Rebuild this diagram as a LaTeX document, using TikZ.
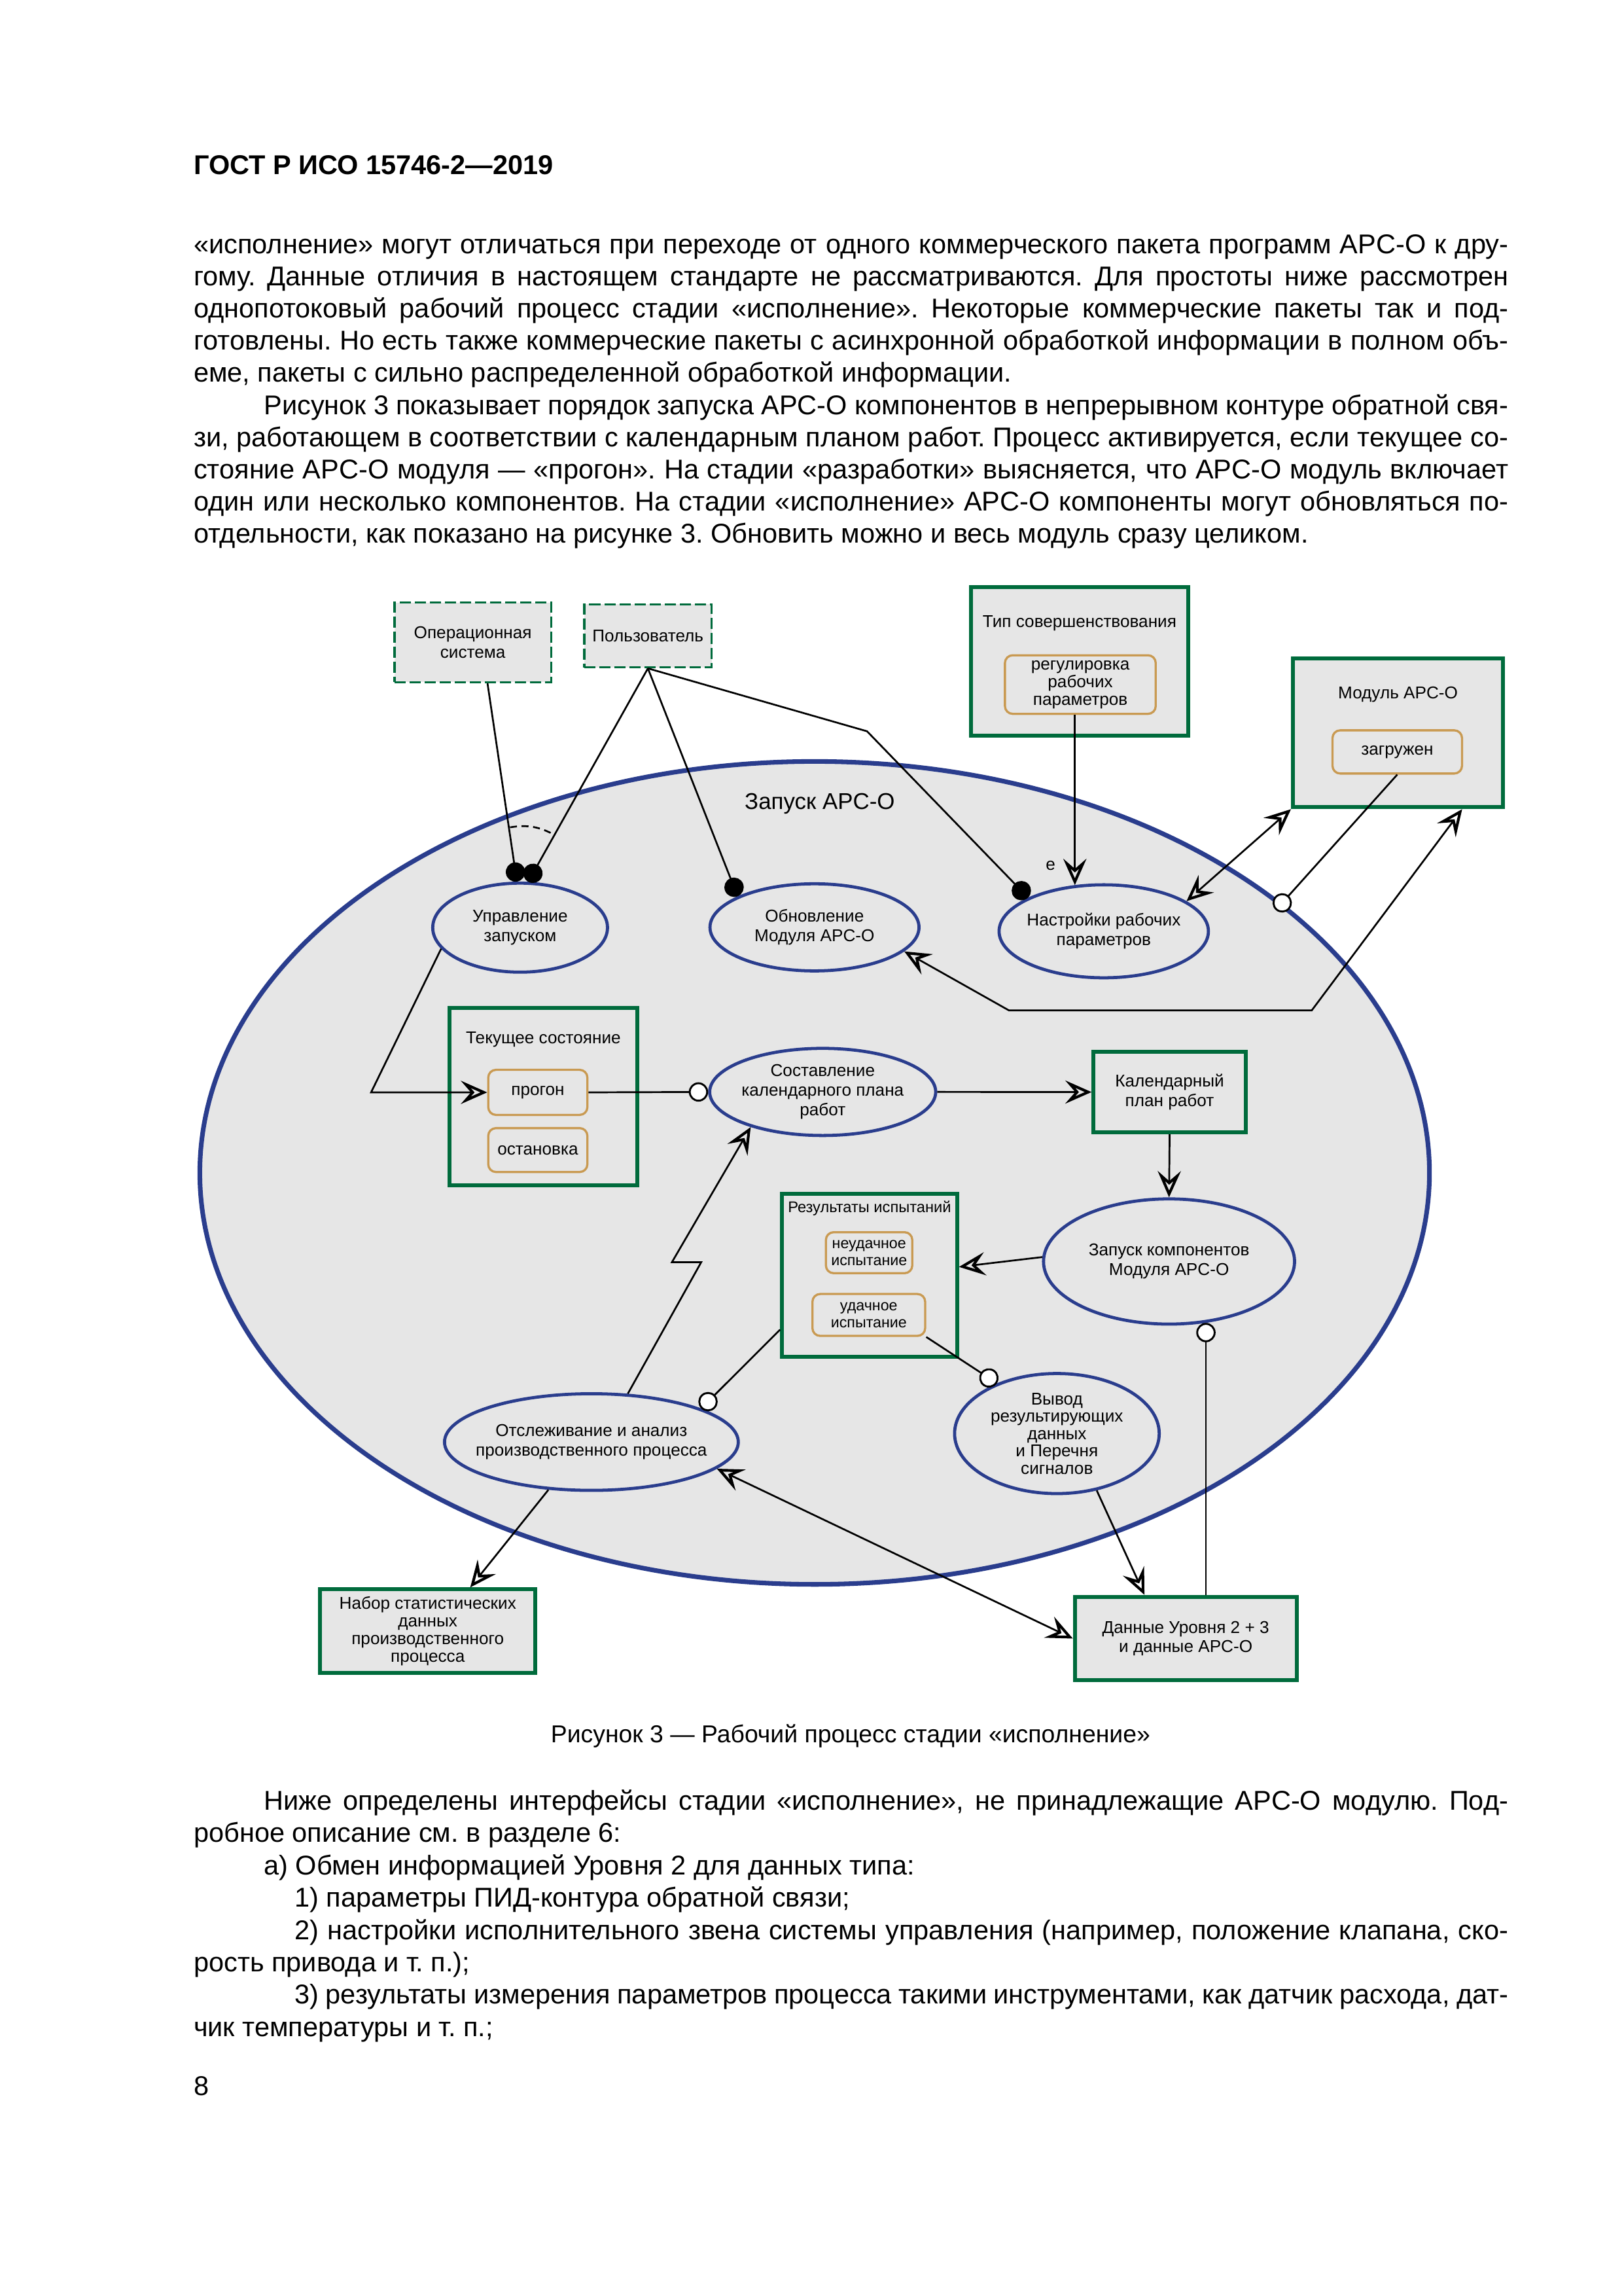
\documentclass[tikz,border=0pt]{standalone}
\usepackage{fontspec}
\setmainfont{Liberation Sans}
\usetikzlibrary{arrows.meta,shapes.geometric,calc}
\definecolor{bgfill}{HTML}{E6E6E6}
\definecolor{navy}{HTML}{2A3D8D}
\definecolor{dgreen}{HTML}{006B3C}
\definecolor{ochre}{HTML}{C99A52}
\newdimen\uu \uu=0.18936mm
\newcommand{\dfont}{\fontsize{6.3}{7.2}\selectfont}
\newcommand{\dfontt}{\fontsize{6.3}{6.5}\selectfont}
\newcommand{\smfont}{\fontsize{5.6}{6.2}\selectfont}
\newcommand{\bodyfont}{\fontsize{10}{11.9}\selectfont}
\tikzset{
  opena/.tip={Stealth[open, length=3.4mm, width=3mm, inset=1.3mm, line width=1pt]},
  fdot/.tip={Circle[length=2.5mm]},
  ocirc/.tip={Circle[length=2.5mm, fill=white, line width=0.7pt]},
}
\frenchspacing
\begin{document}
\frenchspacing
\begin{tikzpicture}[x=0.18936mm, y=-0.18936mm,
  proc/.style={ellipse, draw=navy, line width=1.15pt, fill=bgfill, inner sep=0pt},
  lbl/.style={font=\dfont, align=center, inner sep=0pt},
  box/.style={rectangle, draw=dgreen, line width=1.45pt, fill=bgfill, inner sep=0pt, align=center, font=\dfont},
  extbox/.style={rectangle, draw=dgreen, line width=0.8pt, dash pattern=on 1.45mm off 0.5mm, fill=bgfill, inner sep=0pt, align=center, font=\dfont},
  statebox/.style={rectangle, rounded corners=1mm, draw=ochre, line width=0.8pt, fill=bgfill, inner sep=0pt, align=center, font=\dfontt},
  sz/.style 2 args={minimum width={#1*\uu}, minimum height={#2*\uu}},
  conn/.style={draw=black, line width=0.65pt},
  arr/.style={conn, -opena},
  darr/.style={conn, opena-opena},
  bl/.style={anchor=base west, inner sep=0pt, font=\bodyfont\frenchspacing},
]
\useasboundingbox (0,0) rectangle (1109,1568);
\fill[white] (0,0) rectangle (1109,1568);

% ---------- page text ----------
\node[anchor=base west, inner sep=0pt, font=\bfseries\fontsize{10}{12}\selectfont] (hdr) at (132,119) {ГОСТ Р ИСО 15746-2—2019};

\node[bl] (l1) at (132,173.2) {\makebox[170.05mm][s]{«исполнение» могут отличаться при переходе от одного коммерческого пакета программ APC-O к дру-}};
\node[bl] (l2) at (132,195.1) {\makebox[170.05mm][s]{гому. Данные отличия в настоящем стандарте не рассматриваются. Для простоты ниже рассмотрен}};
\node[bl] (l3) at (132,217.0) {\makebox[170.05mm][s]{однопотоковый рабочий процесс стадии «исполнение». Некоторые коммерческие пакеты так и под-}};
\node[bl] (l4) at (132,238.9) {\makebox[170.05mm][s]{готовлены. Но есть также коммерческие пакеты с асинхронной обработкой информации в полном объ-}};
\node[bl] (l5) at (132,260.8) {еме, пакеты с сильно распределенной обработкой информации.};
\node[bl] (l6) at (180,283.2) {\makebox[160.96mm][s]{Рисунок 3 показывает порядок запуска APC-O компонентов в непрерывном контуре обратной свя-}};
\node[bl] (l7) at (132,305.1) {\makebox[170.05mm][s]{зи, работающем в соответствии с календарным планом работ. Процесс активируется, если текущее со-}};
\node[bl] (l8) at (132,327.0) {\makebox[170.05mm][s]{стояние APC-O модуля — «прогон». На стадии «разработки» выясняется, что APC-O модуль включает}};
\node[bl] (l9) at (132,348.9) {\makebox[170.05mm][s]{один или несколько компонентов. На стадии «исполнение» APC-O компоненты могут обновляться по-}};
\node[bl] (l10) at (132,370.8) {отдельности, как показано на рисунке 3. Обновить можно и весь модуль сразу целиком.};

\node[anchor=base, inner sep=0pt, font=\fontsize{9}{11}\selectfont] (cap) at (581,1190) {Рисунок 3 — Рабочий процесс стадии «исполнение»};

\node[bl] (m1) at (180,1236.0) {\makebox[160.96mm][s]{Ниже определены интерфейсы стадии «исполнение», не принадлежащие APC-O модулю. Под-}};
\node[bl] (m2) at (132,1258.1) {робное описание см. в разделе 6:};
\node[bl] (m3) at (180,1280.2) {а) Обмен информацией Уровня 2 для данных типа:};
\node[bl] (m4) at (201,1302.3) {1) параметры ПИД-контура обратной связи;};
\node[bl] (m5) at (201,1324.4) {\makebox[156.98mm][s]{2) настройки исполнительного звена системы управления (например, положение клапана, ско-}};
\node[bl] (m6) at (132,1346.5) {рость привода и т. п.);};
\node[bl] (m7) at (201,1368.6) {\makebox[156.98mm][s]{3) результаты измерения параметров процесса такими инструментами, как датчик расхода, дат-}};
\node[bl] (m8) at (132,1390.7) {чик температуры и т. п.;};
\node[bl] (pg) at (132,1431) {8};

% ---------- diagram ----------
\node[proc, line width=1.7pt, sz={840}{562}] (big) at (556.5,801) {};
\node[inner sep=0pt, font=\fontsize{8.4}{10}\selectfont] (bigT) at (560,549) {Запуск APC-O};

\node[extbox, sz={107}{54.5}] (os) at (323,438.7) {Операционная\\система};
\node[extbox, sz={87}{43}] (user) at (442.6,434.2) {Пользователь};

\node[box, sz={148.5}{101.5}] (tip) at (737.5,451.5) {};
\node[lbl] (tipT) at (737.5,425.5) {Тип совершенствования};
\node[statebox, sz={103}{40}] (reg) at (738,467.5) {регулировка\\рабочих\\параметров};

\node[box, sz={143.5}{101.5}] (mod) at (955,500.5) {};
\node[lbl] (modT) at (955,474.4) {Модуль APC-O};
\node[statebox, sz={88.5}{29.5}] (zag) at (954.5,513.5) {загружен};

\node[proc, sz={119.4}{60.8}, label={[lbl]center:{Управление\\запуском}}] (upr) at (355.3,633.5) {};
\node[proc, sz={142.8}{59.5}, label={[lbl]center:{Обновление\\Модуля APC-O}}] (obn) at (556.4,633.3) {};
\node[proc, sz={143}{63.5}, label={[lbl]center:{Настройки рабочих\\параметров}}] (nast) at (754,636) {};

\node[box, sz={128}{121}] (tek) at (371.2,749) {};
\node[lbl] (tekT) at (371.2,709.8) {Текущее состояние};
\node[statebox, sz={67.7}{30.8}] (prog) at (367.4,746) {прогон};
\node[statebox, sz={67.7}{30}] (ost) at (367.4,785.4) {остановка};

\node[proc, sz={154.4}{59.5}, label={[lbl]center:{Составление\\календарного плана\\работ}}] (sost) at (562,745.7) {};
\node[box, sz={104}{55}] (kal) at (799,745.8) {Календарный\\план работ};

\node[box, sz={119.5}{111.5}] (res) at (594,871) {};
\node[lbl, font=\fontsize{5.7}{6.8}\selectfont] (resT) at (594,825.3) {Результаты испытаний};
\node[statebox, sz={59}{28}, font=\smfont] (neud) at (593.7,855.5) {неудачное\\испытание};
\node[statebox, sz={77}{28.6}, font=\smfont] (ud) at (593.5,898) {удачное\\испытание};

\node[proc, sz={171.5}{85.5}, label={[lbl]center:{Запуск компонентов\\Модуля APC-O}}] (zap) at (798.6,861.5) {};
\node[proc, sz={139.8}{82}, label={[lbl, font=\fontsize{6.3}{6.4}\selectfont]center:{Вывод\\результирующих\\данных\\и Перечня\\сигналов}}] (vyv) at (722,979) {};
\node[proc, sz={200.7}{66}, label={[lbl]center:{Отслеживание и анализ\\производственного процесса}}] (otsl) at (404,984.8) {};

\node[box, sz={147}{57}, font=\fontsize{6.3}{6.5}\selectfont] (nab) at (292.2,1113.9) {Набор статистических\\данных\\производственного\\процесса};
\node[box, sz={151.5}{57}] (dan) at (810,1119) {Данные Уровня 2 + 3\\и данные APC-O};

\node[inner sep=0pt, font=\dfont] (elbl) at (717.7,591) {e};

% bend points
\coordinate (b1) at (592.3,499.4);
\coordinate (b2) at (253.5,746);
\coordinate (b3) at (689.2,690);
\coordinate (b4) at (896.1,690);
\coordinate (z1) at (459,862);
\coordinate (z2) at (479,862);

% ---------- connectors ----------
\draw[conn, -fdot] ([xshift=1.9mm]os.south) -- (upr.94);
\draw[conn, -fdot] (user.south) -- (upr.80);
\draw[conn, dash pattern=on 0.9mm off 0.6mm] (348.4,565) to[bend left=19] (379.2,570.4);
\draw[conn, -fdot] (user.south) -- (obn.158);
\draw[conn, -fdot] (user.south) -- (b1) -- (nast.156);
\draw[arr] (nast.122 |- reg.south) -- (nast.122);
\draw[darr] (nast.20) -- (mod.south west);
\draw[conn, -ocirc, shorten >=-1.25mm] (zag.south) -- (big.30);
\draw[darr] (obn.-15) -- (b3) -- (b4) -- ([xshift=8.3mm]mod.south);
\draw[arr] (upr.195) -- (b2) -- (prog.west);
\draw[conn, -ocirc] (prog.east) -- (sost.west);
\draw[arr] (sost.east) -- (kal.west);
\draw[arr] (kal.south) -- (zap.north);
\draw[arr] (zap.178) -- ([yshift=1.1mm]res.east);
\draw[conn, -ocirc] (zap.-59 |- dan.north) -- (zap.-59);
\draw[conn, -ocirc] (ud.south east) -- (vyv.140);
\draw[conn, -ocirc] ([yshift=3.8mm]res.south west) -- (otsl.17);
\draw[arr] (otsl.53) -- (z2) -- (z1) -- (sost.206);
\draw[arr] (otsl.228) -- ([xshift=5.5mm]nab.north);
\draw[darr] (otsl.-12) -- (dan.west);
\draw[arr] (vyv.-55) -- ([xshift=-5.34mm]dan.north);
\end{tikzpicture}
\end{document}
